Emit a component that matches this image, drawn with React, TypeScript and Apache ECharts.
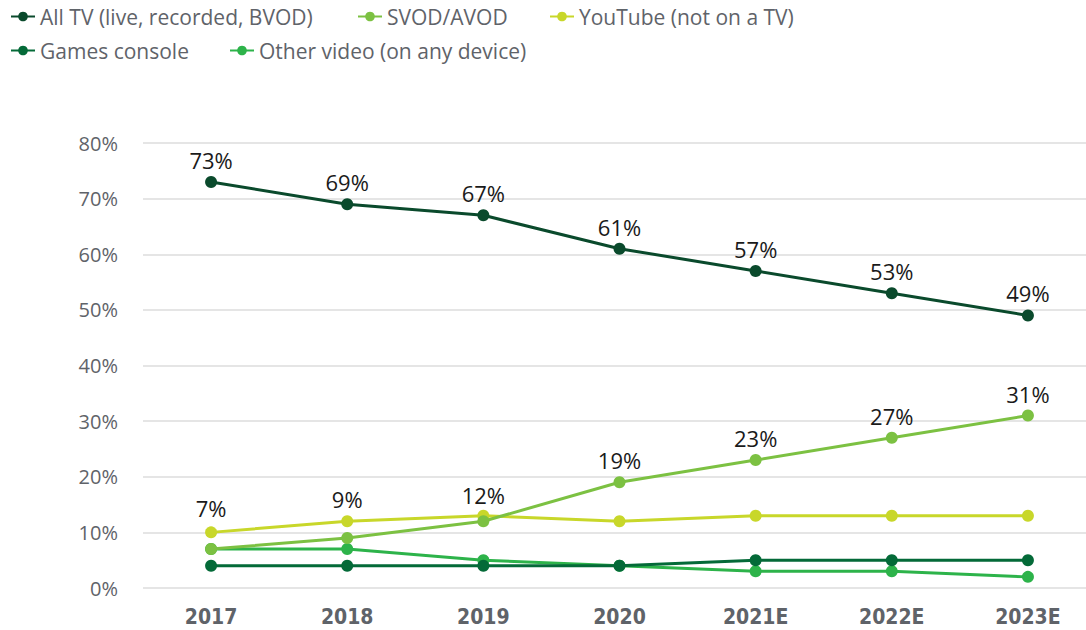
import React, { useEffect, useRef } from "react";
import * as echarts from "echarts";

const categories = ["2017", "2018", "2019", "2020", "2021E", "2022E", "2023E"];
const allTV = [73, 69, 67, 61, 57, 53, 49];
const svod = [7, 9, 12, 19, 23, 27, 31];
const youtube = [10, 12, 13, 12, 13, 13, 13];
const games = [4, 4, 4, 4, 5, 5, 5];
const otherVideo = [7, 7, 5, 4, 3, 3, 2];
const yTicks = [0, 80, 10];

const names = [
  "All TV (live, recorded, BVOD)",
  "SVOD/AVOD",
  "YouTube (not on a TV)",
  "Games console",
  "Other video (on any device)",
];
const colors = ["#0A4A2C", "#7CC142", "#C8D72A", "#046A38", "#2DB34A"];
const legendPos = [
  [10, 6],
  [357, 6],
  [549, 6],
  [10, 40],
  [229, 40],
];
// label lifts for SVOD early years (placed above YouTube points)
const svodLabelLift = [-19, -17, -4, 0, 0, 0, 0];

const FONT = "'Open Sans', 'Noto Sans', sans-serif";

export default function App() {
  const ref = useRef<HTMLDivElement>(null);
  useEffect(() => {
    if (!ref.current) return;
    const chart = echarts.init(ref.current, null, { renderer: "svg" });
    const labelStyle = {
      show: true,
      position: "top",
      color: "#1a1a1a",
      fontSize: 22,
      fontFamily: FONT,
      formatter: "{c}%",
    };
    const mk = (i: number, data: any[], label?: any) => ({
      name: names[i],
      type: "line",
      data,
      symbol: "circle",
      symbolSize: 12,
      lineStyle: { width: 3, color: colors[i] },
      itemStyle: { color: colors[i] },
      label: label || { show: false },
      z: 10 - i,
    });
    chart.setOption({
      animation: false,
      legend: names.map((n, i) => ({
        data: [n],
        left: legendPos[i][0],
        top: legendPos[i][1],
        padding: 0,
        itemWidth: 24,
        itemHeight: 12,
        itemGap: 0,
        textStyle: { fontSize: 21, color: "#5f6369", fontFamily: FONT },
      })),
      grid: { left: 143, width: 953, top: 143, bottom: 42, outerBoundsMode: "none" },
      xAxis: {
        type: "category",
        data: categories,
        axisLine: { show: false },
        axisTick: { show: false },
        axisLabel: {
          margin: 18,
          fontSize: 21,
          fontWeight: "bold",
          color: "#5f6369",
          fontFamily: "'Liberation Sans Narrow', 'DejaVu Sans Condensed', sans-serif",
        },
      },
      yAxis: {
        type: "value",
        min: yTicks[0],
        max: yTicks[1],
        interval: yTicks[2],
        axisLabel: {
          formatter: "{value}%",
          margin: 25,
          fontSize: 20,
          color: "#5f6369",
          fontFamily: FONT,
        },
        splitLine: { lineStyle: { color: "#dcdcdc", width: 1.5 } },
      },
      series: [
        mk(0, allTV, labelStyle),
        mk(
          1,
          svod.map((v, i) => ({ value: v, label: { offset: [0, svodLabelLift[i]] } })),
          labelStyle
        ),
        mk(2, youtube),
        mk(3, games),
        mk(4, otherVideo),
      ],
    });
    return () => chart.dispose();
  }, []);
  return (
    <div
      ref={ref}
      style={{ position: "fixed", left: 0, top: 0, width: 1086, height: 630, background: "#fff" }}
    />
  );
}
